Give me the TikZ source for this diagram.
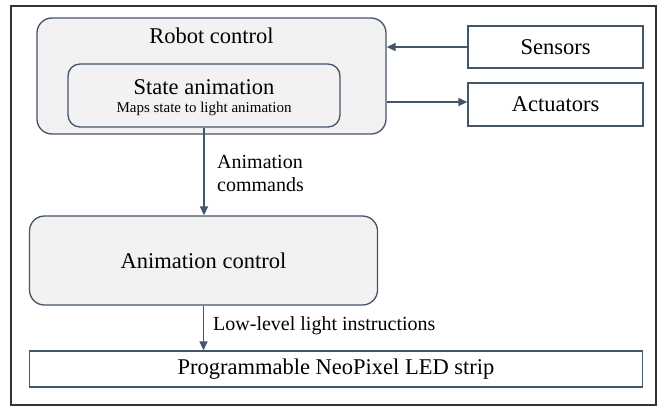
\documentclass[tikz,border=0pt]{standalone}
\usepackage{fontspec}
\setmainfont{Liberation Serif}
\usetikzlibrary{arrows.meta}
\definecolor{slate}{HTML}{44546A}
\definecolor{boxfill}{HTML}{F2F2F2}
\newcommand{\bigfont}{\fontsize{22.5}{27}\selectfont}
\newcommand{\labfont}{\fontsize{20}{23}\selectfont}
\newcommand{\subfont}{\fontsize{15}{18}\selectfont}
\tikzset{
  softbox/.style={draw=slate, fill=boxfill, line width=1.3pt, rounded corners=15pt, inner sep=0pt},
  plainbox/.style={draw=slate, fill=white, line width=1.3pt, inner sep=0pt, font=\bigfont},
  flow/.style={draw=slate, line width=1.3pt, -{Triangle[length=9pt,width=8pt]}},
  flowlabel/.style={anchor=west, align=left, inner sep=0pt, font=\labfont}
}
\begin{document}
\begin{tikzpicture}[x=1pt,y=-1pt]
			%%%%% FRAME %%%%%
			\useasboundingbox (0,0) rectangle (660,407);
			\draw[line width=1.5pt, color=black!80] (11,6) rectangle (656,405);
			
			%%%%% ROBOT CONTROL %%%%%
			\node[softbox, minimum width=349pt, minimum height=116pt] (robot) at (211.5,76) {};
			\node[font=\bigfont] (robottitle) at (211.5,36) {Robot control};
			
			\node[softbox, rounded corners=12pt, minimum width=272pt, minimum height=63pt] (state) at (204,95.5) {};
			\node[font=\bigfont] (statetitle) at (204,87) {State animation};
			\node[font=\subfont] (statesub) at (204,109) {Maps state to light animation};
			
			%%%%% SENSORS / ACTUATORS %%%%%
			\node[plainbox, minimum width=175pt, minimum height=42pt] (sensors) at (555.5,47) {Sensors};
			\node[plainbox, minimum width=175pt, minimum height=43pt] (actuators) at (555.5,104.5) {Actuators};
			
			\draw[flow] (sensors.west) -- (sensors.west -| robot.east);
			\draw[flow] ([yshift=2.5pt]actuators.west -| robot.east) -- ([yshift=2.5pt]actuators.west);
			
			%%%%% ANIMATION CONTROL %%%%%
			\node[softbox, minimum width=348pt, minimum height=89pt, font=\bigfont] (anim) at (203.5,260.5) {Animation control};
			\draw[flow] (state.south) -- (state.south |- anim.north);
			\node[flowlabel] (animcmd) at (217,173.5) {Animation\\commands};
			
			%%%%% LED STRIP %%%%%
			\node[plainbox, minimum width=613pt, minimum height=36pt] (led) at (336,369) {Programmable NeoPixel LED strip};
			\draw[flow] (anim.south) -- (anim.south |- led.north);
			\node[flowlabel] (lowlevel) at (213,326) {Low-level light instructions};
			
			%%%%% END %%%%%
		\end{tikzpicture}
\end{document}
